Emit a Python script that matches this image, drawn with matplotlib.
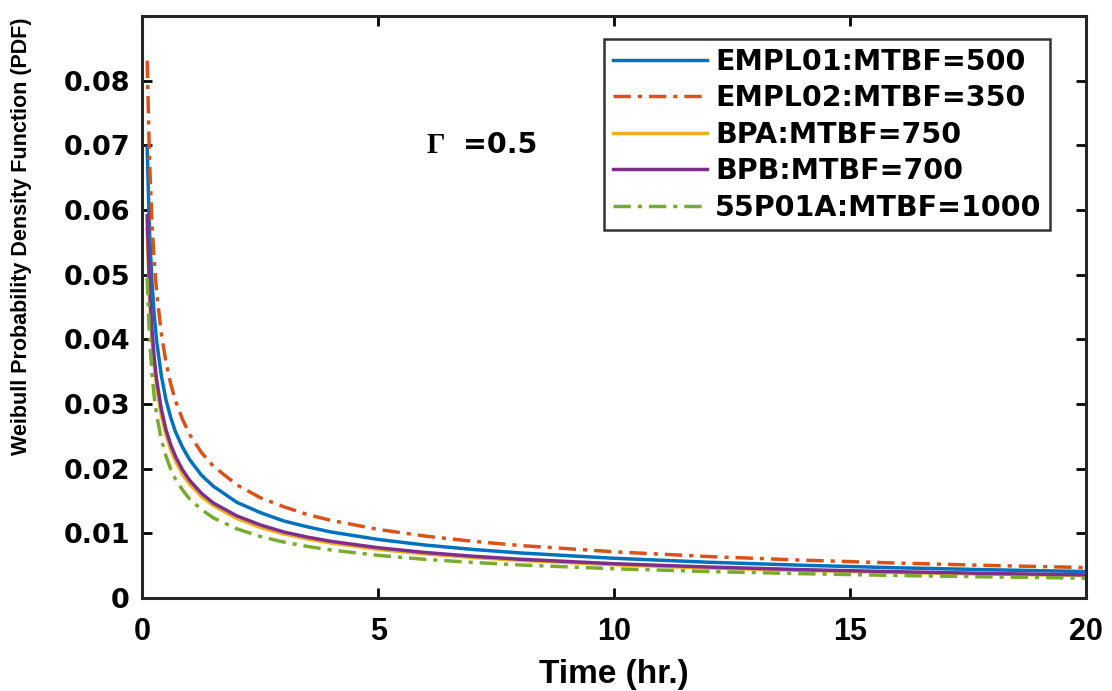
import matplotlib
matplotlib.use('Agg')
import matplotlib.pyplot as plt

# time axis (hr.) and the five Weibull pdf curves
time = [0.1, 0.15, 0.2, 0.25, 0.3, 0.4, 0.5, 0.6, 0.7, 0.85, 1, 1.25, 1.5,
        2, 2.5, 3, 3.5, 4, 5, 6, 7, 8, 10, 12, 14, 16, 18, 20]

empl01 = [0.0697, 0.0567, 0.0490, 0.0437, 0.0398, 0.0344, 0.0306, 0.0279,
          0.0257, 0.0233, 0.0214, 0.0190, 0.0173, 0.0148, 0.0132, 0.0119,
          0.0110, 0.0102, 0.00905, 0.00818, 0.00751, 0.00697, 0.00614,
          0.00553, 0.00506, 0.00467, 0.00436, 0.00409]
empl02 = [0.0831, 0.0676, 0.0583, 0.0520, 0.0474, 0.0409, 0.0364, 0.0331,
          0.0305, 0.0276, 0.0253, 0.0225, 0.0204, 0.0175, 0.0155, 0.0141,
          0.0129, 0.0120, 0.0106, 0.00957, 0.00877, 0.00812, 0.00714,
          0.00641, 0.00585, 0.00540, 0.00502, 0.00471]
bpa = [0.0571, 0.0465, 0.0402, 0.0359, 0.0327, 0.0282, 0.0252, 0.0229,
       0.0212, 0.0191, 0.0176, 0.0157, 0.0143, 0.0123, 0.0109, 0.00989,
       0.00912, 0.00849, 0.00752, 0.00681, 0.00627, 0.00582, 0.00514,
       0.00464, 0.00426, 0.00394, 0.00368, 0.00347]
bpb = [0.0591, 0.0481, 0.0416, 0.0371, 0.0338, 0.0292, 0.0260, 0.0237,
       0.0219, 0.0198, 0.0182, 0.0162, 0.0147, 0.0127, 0.0113, 0.0102,
       0.00941, 0.00876, 0.00777, 0.00703, 0.00646, 0.00600, 0.00530,
       0.00479, 0.00438, 0.00406, 0.00379, 0.00357]
p55p01a = [0.0495, 0.0403, 0.0349, 0.0311, 0.0284, 0.0245, 0.0219, 0.0199,
           0.0184, 0.0167, 0.0153, 0.0137, 0.0124, 0.0107, 0.00951, 0.00864,
           0.00797, 0.00742, 0.00659, 0.00597, 0.00550, 0.00511, 0.00452,
           0.00409, 0.00376, 0.00348, 0.00326, 0.00307]

labels = ['EMPL01:MTBF=500', 'EMPL02:MTBF=350', 'BPA:MTBF=750',
          'BPB:MTBF=700', '55P01A:MTBF=1000']

xticks = [0, 5, 10, 15, 20]
yticks = [0, 0.01, 0.02, 0.03, 0.04, 0.05, 0.06, 0.07, 0.08]
yticklabels = ['0', '0.01', '0.02', '0.03', '0.04', '0.05', '0.06', '0.07', '0.08']

arial = ['Liberation Sans', 'DejaVu Sans']
wide = ['DejaVu Sans']

fig = plt.figure(figsize=(11.12, 6.91), dpi=100)
ax = fig.add_axes([0.1281, 0.1346, 0.9766 - 0.1281, 0.9768 - 0.1346])

lw = 2.5
dd = (5, 2, 1.2, 2)
ax.plot(time, empl01, color='#0072BD', lw=lw, label=labels[0])
ax.plot(time, empl02, color='#D95319', lw=lw, dashes=dd, label=labels[1])
ax.plot(time, bpa, color='#EDB120', lw=lw, label=labels[2])
ax.plot(time, bpb, color='#7E2F8E', lw=lw, label=labels[3])
ax.plot(time, p55p01a, color='#77AC30', lw=lw, dashes=dd, label=labels[4])

ax.set_xlim(0, 20)
ax.set_ylim(0, 0.09)
ax.set_xticks(xticks)
ax.set_xticklabels([str(v) for v in xticks], family=arial, weight='bold', fontsize=22)
ax.set_yticks(yticks)
ax.set_yticklabels(yticklabels, family=wide, weight='bold', fontsize=19.5)
ax.tick_params(direction='in', length=7, width=2, top=True, right=True)
ax.tick_params(axis='x', pad=14)
ax.tick_params(axis='y', pad=9)
for s in ax.spines.values():
    s.set_linewidth(2.2)
    s.set_color('#262626')

ax.set_xlabel('Time (hr.)', family=arial, weight='bold', fontsize=24, labelpad=8)
fig.text(0.019, 1 - 236 / 691, 'Weibull Probability Density Function (PDF)',
         rotation=90, ha='center', va='center', family=arial, weight='bold',
         fontsize=15.5)

# gamma annotation
ax.text(6.03, 0.0700, '\u0393', family=['Liberation Serif', 'DejaVu Serif'],
        weight='bold', fontsize=21, va='center', ha='left')
ax.text(6.79, 0.0700, '=0.5', family=wide, weight='bold', fontsize=20.5,
        va='center', ha='left')

leg = ax.legend(loc='upper right', bbox_to_anchor=(0.962, 0.9605),
                borderaxespad=0, fancybox=False, edgecolor='black',
                prop={'family': wide, 'weight': 'bold', 'size': 20.5},
                handlelength=3.3, handletextpad=0.3, labelspacing=0.3,
                borderpad=0.3)
leg.get_frame().set_linewidth(1.8)

fig.savefig('out.png', dpi=100)
